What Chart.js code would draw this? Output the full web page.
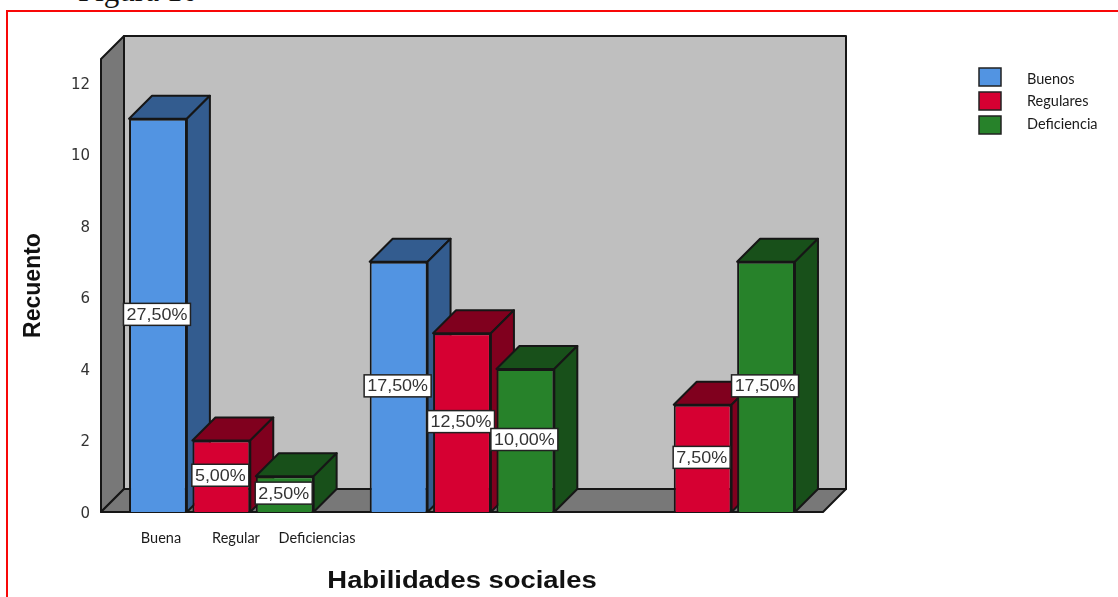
<!DOCTYPE html>
<html lang="en">
<head>
    <meta charset="UTF-8">
    <title>Habilidades sociales</title>
    <script src="https://cdn.jsdelivr.net/npm/chart.js"></script>
    <style>
        body {
            margin: 0;
            background: #ffffff;
            overflow: hidden;
        }
        #frame {
            position: absolute;
            left: 6px;
            top: 10px;
            width: 1120px;
            height: 600px;
            border: 2px solid #f80808;
        }
        #caption {
            position: absolute;
            left: 78px;
            top: -25px;
            font: 31px/31px 'Liberation Serif', serif;
            color: #111111;
        }
        #chart {
            position: absolute;
            left: 0;
            top: 0;
        }
    </style>
</head>
<body>
    <div id="caption">Figura 10</div>
    <div id="frame"></div>
    <canvas id="chart" width="1118" height="597"></canvas>

    <script>
        const categories = ['Buena', 'Regular', 'Deficiencias'];
        const seriesNames = ['Buenos', 'Regulares', 'Deficiencia'];
        const buenos = [11, 7, null];
        const regulares = [2, 5, 3];
        const deficiencia = [1, 4, 7];
        const yTicks = [0, 2, 4, 6, 8, 10, 12];
        const pctLabels = [
            ['27,50%', '17,50%', null],
            ['5,00%', '12,50%', '7,50%'],
            ['2,50%', '10,00%', '17,50%']
        ];

        const frontColors = ['#5294e2', '#d60032', '#27822a'];
        const sideColors = ['#335c8f', '#80001e', '#18501a'];
        const edge = '#161616';
        const depth = 23;

        function poly(ctx, pts, fill) {
            ctx.beginPath();
            pts.forEach((p, i) => i ? ctx.lineTo(p[0], p[1]) : ctx.moveTo(p[0], p[1]));
            ctx.closePath();
            ctx.fillStyle = fill;
            ctx.fill();
            ctx.stroke();
        }

        // the source image was stretched sideways, so text is scaled on x
        function stretchedText(ctx, txt, x, y, sx) {
            ctx.save();
            ctx.translate(x, y);
            ctx.scale(sx, 1);
            ctx.fillText(txt, 0, 0);
            ctx.restore();
        }

        // 3D box, then the series left to right so later bars cover earlier sides
        const boxPlugin = {
            id: 'box',
            beforeDatasetsDraw(chart) {
                const { ctx, chartArea: a } = chart;
                ctx.save();
                ctx.strokeStyle = edge;
                ctx.lineWidth = 2;
                ctx.lineJoin = 'round';
                poly(ctx, [[a.left + depth, a.top - depth], [a.right + depth, a.top - depth], [a.right + depth, a.bottom - depth], [a.left + depth, a.bottom - depth]], '#bfbfbf');
                poly(ctx, [[a.left, a.top], [a.left + depth, a.top - depth], [a.left + depth, a.bottom - depth], [a.left, a.bottom]], '#787878');
                poly(ctx, [[a.left, a.bottom], [a.left + depth, a.bottom - depth], [a.right + depth, a.bottom - depth], [a.right, a.bottom]], '#787878');

                chart.data.datasets.forEach((ds, i) => {
                    const meta = chart.getDatasetMeta(i);
                    meta.data.forEach((bar, n) => {
                        if (ds.data[n] === null) return;
                        const l = bar.x - bar.width / 2;
                        const r = bar.x + bar.width / 2;
                        poly(ctx, [[l, bar.y], [l + depth, bar.y - depth], [r + depth, bar.y - depth], [r, bar.y]], sideColors[i]);
                        poly(ctx, [[r, bar.y], [r + depth, bar.y - depth], [r + depth, bar.base - depth], [r, bar.base]], sideColors[i]);
                    });
                    meta.controller.draw();
                });
                ctx.restore();
            },
            beforeDatasetDraw() {
                return false;
            }
        };

        // white percent boxes, the typed category labels, x title and legend
        const labelsPlugin = {
            id: 'labels',
            afterDatasetsDraw(chart) {
                const { ctx, chartArea: a } = chart;
                ctx.save();
                ctx.textBaseline = 'middle';
                ctx.textAlign = 'center';
                ctx.font = "16px 'Liberation Sans'";
                chart.data.datasets.forEach((ds, i) => {
                    chart.getDatasetMeta(i).data.forEach((bar, n) => {
                        const txt = pctLabels[i][n];
                        if (!txt) return;
                        const cx = bar.x - 1;
                        const cy = (bar.y + bar.base) / 2 - 1;
                        const bw = Math.round(ctx.measureText(txt).width * 1.12) + 6;
                        ctx.fillStyle = '#ffffff';
                        ctx.strokeStyle = '#222222';
                        ctx.lineWidth = 1.5;
                        ctx.fillRect(cx - bw / 2, cy - 11, bw, 22);
                        ctx.strokeRect(cx - bw / 2, cy - 11, bw, 22);
                        ctx.fillStyle = '#333333';
                        stretchedText(ctx, txt, cx, cy + 1, 1.12);
                    });
                });

                // labels were typed under the first group in the source figure
                ctx.font = "14.5px Lato";
                ctx.fillStyle = '#1a1a1a';
                const xs = [161, 236, 317];
                categories.forEach((c, i) => ctx.fillText(c, xs[i], 538));

                ctx.font = "bold 23px 'Liberation Sans'";
                ctx.fillStyle = '#111111';
                stretchedText(ctx, 'Habilidades sociales', (a.left + a.right) / 2, 582, 1.19);

                // legend
                ctx.textAlign = 'left';
                ctx.font = "14.5px Lato";
                seriesNames.forEach((name, i) => {
                    const y = 68 + i * 24;
                    ctx.fillStyle = frontColors[i];
                    ctx.strokeStyle = '#222222';
                    ctx.lineWidth = 1.5;
                    ctx.fillRect(979, y, 22, 18);
                    ctx.strokeRect(979, y, 22, 18);
                    ctx.fillStyle = '#1a1a1a';
                    ctx.fillText(name, 1027, 79 + i * 22.5);
                });
                ctx.restore();
            }
        };

        new Chart(document.getElementById('chart'), {
            type: 'bar',
            data: {
                labels: categories,
                datasets: [
                    { label: seriesNames[0], data: buenos },
                    { label: seriesNames[1], data: regulares },
                    { label: seriesNames[2], data: deficiencia }
                ].map((ds, i) => ({
                    ...ds,
                    backgroundColor: frontColors[i],
                    borderColor: edge,
                    borderWidth: 2,
                    categoryPercentage: 0.79,
                    barPercentage: 0.913
                }))
            },
            options: {
                responsive: false,
                animation: false,
                layout: { padding: { top: 59, right: 295, left: 0, bottom: 0 } },
                plugins: {
                    legend: { display: false },
                    tooltip: { enabled: false }
                },
                scales: {
                    x: {
                        grid: { display: false, drawTicks: false },
                        border: { display: false },
                        ticks: { display: false },
                        afterFit(scale) { scale.height = 85; }
                    },
                    y: {
                        min: 0,
                        max: 12.67,
                        grid: { display: false, drawTicks: false },
                        border: { display: false },
                        afterBuildTicks(scale) { scale.ticks = yTicks.map(v => ({ value: v })); },
                        ticks: {
                            padding: 11,
                            labelOffset: 2,
                            color: '#333333',
                            font: { family: "'DejaVu Sans'", size: 15 }
                        },
                        title: {
                            display: true,
                            text: 'Recuento',
                            font: { family: "'Liberation Sans'", size: 23, weight: 'bold' },
                            color: '#111111',
                            padding: { top: 20, bottom: 0 }
                        },
                        afterFit(scale) { scale.width = 101; }
                    }
                }
            },
            plugins: [boxPlugin, labelsPlugin]
        });
    </script>
</body>
</html>
